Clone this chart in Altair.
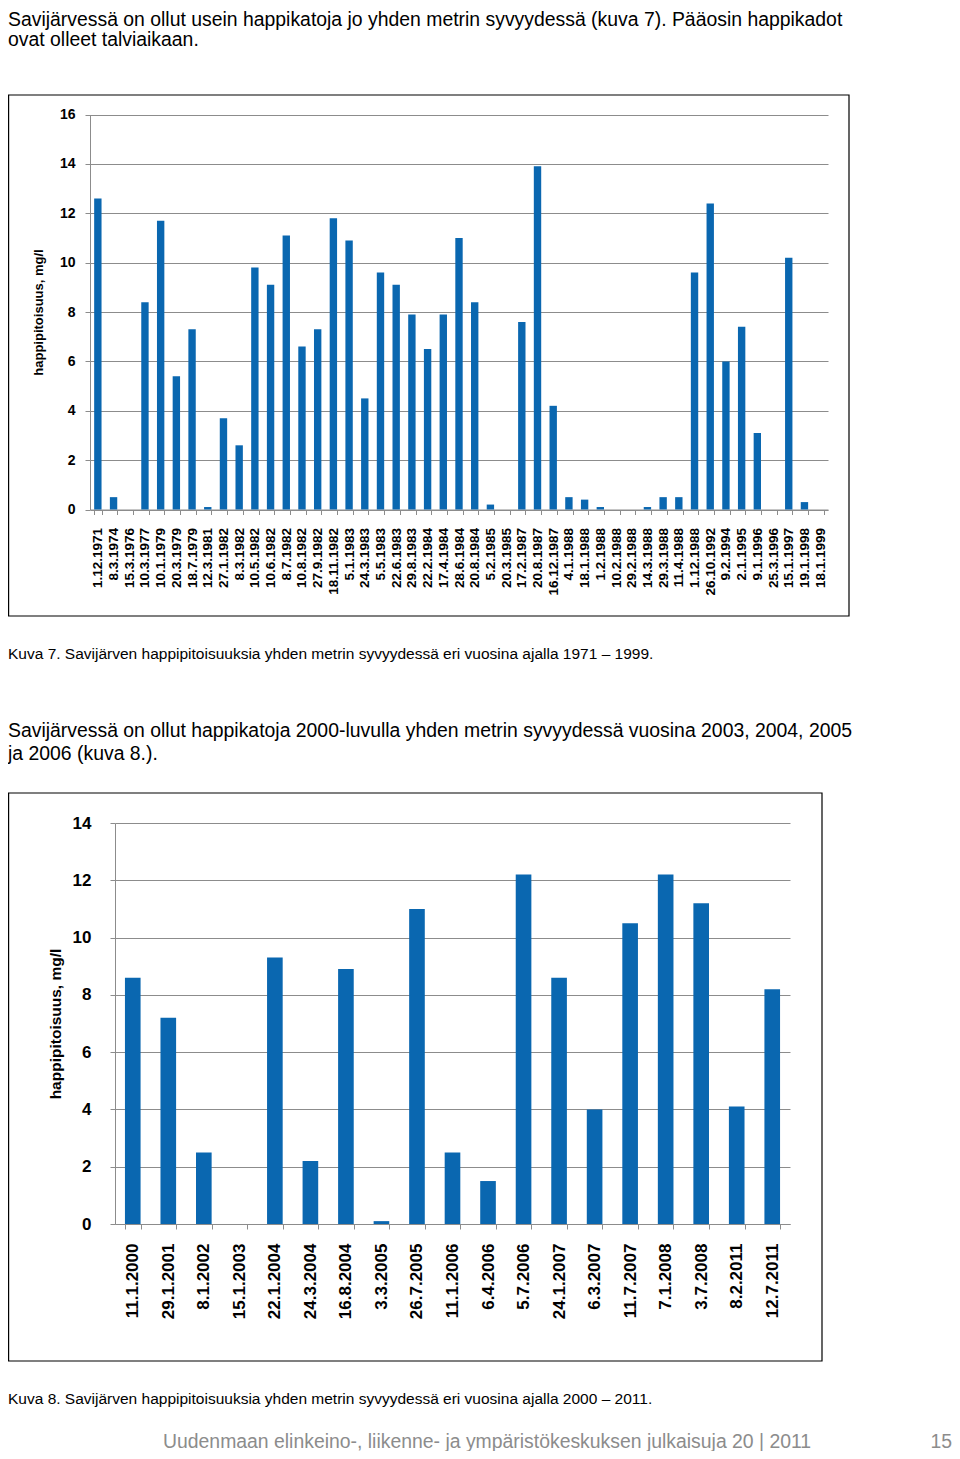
import altair as alt
import pandas as pd

# ---------------- data ----------------
dates1 = ["1.12.1971", "8.3.1974", "15.3.1976", "10.3.1977", "10.1.1979", "20.3.1979",
          "18.7.1979", "12.3.1981", "27.1.1982", "8.3.1982", "10.5.1982", "10.6.1982",
          "8.7.1982", "10.8.1982", "27.9.1982", "18.11.1982", "5.1.1983", "24.3.1983",
          "5.5.1983", "22.6.1983", "29.8.1983", "22.2.1984", "17.4.1984", "28.6.1984",
          "20.8.1984", "5.2.1985", "20.3.1985", "17.2.1987", "20.8.1987", "16.12.1987",
          "4.1.1988", "18.1.1988", "1.2.1988", "10.2.1988", "29.2.1988", "14.3.1988",
          "29.3.1988", "11.4.1988", "1.12.1988", "26.10.1992", "9.2.1994", "2.1.1995",
          "9.1.1996", "25.3.1996", "15.1.1997", "19.1.1998", "18.1.1999"]
values1 = [12.6, 0.5, 0, 8.4, 11.7, 5.4, 7.3, 0.1, 3.7, 2.6, 9.8, 9.1,
           11.1, 6.6, 7.3, 11.8, 10.9, 4.5, 9.6, 9.1, 7.9, 6.5, 7.9, 11.0,
           8.4, 0.2, 0, 7.6, 13.9, 4.2, 0.5, 0.4, 0.1, 0, 0, 0.1,
           0.5, 0.5, 9.6, 12.4, 6.0, 7.4, 3.1, 0, 10.2, 0.3, 0]
yticks1 = [0, 2, 4, 6, 8, 10, 12, 14, 16]

dates2 = ["11.1.2000", "29.1.2001", "8.1.2002", "15.1.2003", "22.1.2004", "24.3.2004",
          "16.8.2004", "3.3.2005", "26.7.2005", "11.1.2006", "6.4.2006", "5.7.2006",
          "24.1.2007", "6.3.2007", "11.7.2007", "7.1.2008", "3.7.2008", "8.2.2011",
          "12.7.2011"]
values2 = [8.6, 7.2, 2.5, 0, 9.3, 2.2, 8.9, 0.1, 11.0, 2.5, 1.5, 12.2,
           8.6, 4.0, 10.5, 12.2, 11.2, 4.1, 8.2]
yticks2 = [0, 2, 4, 6, 8, 10, 12, 14]

y_title = "happipitoisuus, mg/l"
para1 = ["Savijärvessä on ollut usein happikatoja jo yhden metrin syvyydessä (kuva 7). Pääosin happikadot",
         "ovat olleet talviaikaan."]
caption1 = "Kuva 7. Savijärven happipitoisuuksia yhden metrin syvyydessä eri vuosina ajalla 1971 – 1999."
para2 = ["Savijärvessä on ollut happikatoja 2000-luvulla yhden metrin syvyydessä vuosina 2003, 2004, 2005",
         "ja 2006 (kuva 8.)."]
caption2 = "Kuva 8. Savijärven happipitoisuuksia yhden metrin syvyydessä eri vuosina ajalla 2000 – 2011."
footer = "Uudenmaan elinkeino-, liikenne- ja ympäristökeskuksen julkaisuja 20 | 2011"
page_no = "15"

# ---------------- style ----------------
W, H = 944, 1443
FONT = "Liberation Sans"
BLUE = "#0A67B0"
GRID = "#8C8C8C"

df1 = pd.DataFrame({"pvm": dates1, "happi": values1})
df2 = pd.DataFrame({"pvm": dates2, "happi": values2})


def bar_layer(df, xr, yr, ymax, ticks, lab_x, lab_y, pad_x, pad_y, tsize, title_x, title_y, inner):
    return alt.Chart(df).mark_bar(color=BLUE).encode(
        x=alt.X("pvm:N", sort=None,
                scale=alt.Scale(range=xr, paddingInner=inner, paddingOuter=inner / 2),
                axis=alt.Axis(orient="bottom", offset=yr[0] - H, title=None, labelAngle=-90,
                              labelFont=FONT, labelFontSize=lab_x, labelFontWeight="bold",
                              labelColor="black", labelPadding=pad_x, tickSize=5,
                              tickColor=GRID, domainColor=GRID, grid=False,
                              tickBand="extent", labelOverlap=False)),
        y=alt.Y("happi:Q",
                scale=alt.Scale(domain=[0, ymax], range=yr, nice=False),
                axis=alt.Axis(orient="left", offset=-xr[0], values=ticks, title=y_title,
                              titleX=title_x - xr[0], titleY=title_y, titleAngle=270,
                              titleAlign="center", titleBaseline="middle",
                              titleFont=FONT, titleFontSize=tsize, titleFontWeight="bold",
                              titleColor="black",
                              labelFont=FONT, labelFontSize=lab_y, labelFontWeight="bold",
                              labelColor="black", labelPadding=pad_y, tickSize=5,
                              tickColor=GRID, domainColor=GRID, grid=True,
                              gridColor=GRID, gridWidth=1)),
    )


def text_layer(s, x, y, size, color="black", align="left"):
    return alt.Chart(pd.DataFrame({"t": [s]})).mark_text(
        align=align, baseline="alphabetic", font=FONT, fontSize=size, color=color
    ).encode(x=alt.value(x), y=alt.value(y), text="t:N")


def frame(x1, y1, x2, y2):
    return alt.Chart(pd.DataFrame({"a": [0]})).mark_rect(
        fill="white", fillOpacity=0, stroke="black", strokeWidth=1.2
    ).encode(x=alt.value(x1), x2=alt.value(x2), y=alt.value(y1), y2=alt.value(y2))


layers = [
    frame(0.6, 87, 841, 608),
    frame(0.6, 785, 814, 1353),
    bar_layer(df1, [82, 820], [501.5, 106.5], 16, yticks1, 13.5, 14, 13, 10, 13,
              30.7, 304, 0.53),
    bar_layer(df2, [107, 782], [1216, 815], 14, yticks2, 17, 17, 14, 19, 15.5,
              47.5, 1015.5, 0.56),
    text_layer(para1[0], 0, 18, 19.4),
    text_layer(para1[1], 0, 38, 19.4),
    text_layer(caption1, 0, 650.5, 15.5),
    text_layer(para2[0], 0, 729, 19.4),
    text_layer(para2[1], 0, 752, 19.4),
    text_layer(caption2, 0, 1395.5, 15.5),
    text_layer(footer, 155, 1440, 19.4, color="#8C8C8C"),
    text_layer(page_no, 944, 1440, 19.4, color="#8C8C8C", align="right"),
]

chart = alt.layer(*layers).resolve_scale(
    x="independent", y="independent"
).resolve_axis(
    x="independent", y="independent"
).properties(
    width=W, height=H, padding=0,
    autosize=alt.AutoSizeParams(type="none"),
).configure_view(stroke=None)

chart.save("out.html", embed_options={"renderer": "svg", "actions": False})
